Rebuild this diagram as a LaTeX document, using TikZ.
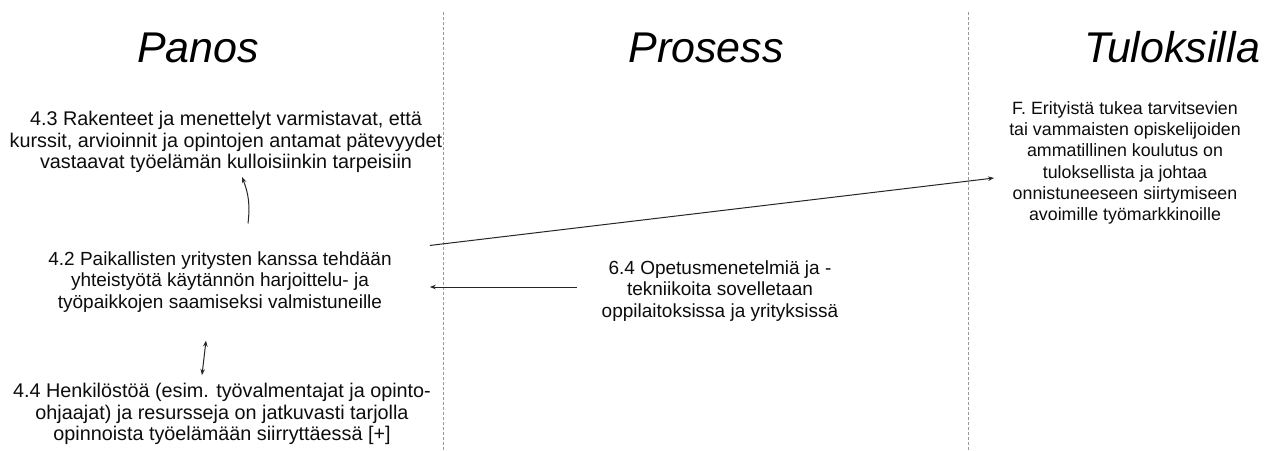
\documentclass[tikz,border=0pt]{standalone}
\usepackage{fontspec}
\setmainfont{Liberation Sans}
\usetikzlibrary{arrows.meta}
\begin{document}
\begin{tikzpicture}[x=1pt,y=-1pt,
  title/.style={font=\fontsize{43}{50}\selectfont\itshape, anchor=base, inner sep=0pt, text=black},
  txt/.style={align=center, inner sep=0pt, text=black!95},
  arr/.style={-{Stealth[length=6pt,width=4.5pt]}, line width=1pt, black!85},
  darr/.style={{Stealth[length=6pt,width=4.5pt]}-{Stealth[length=6pt,width=4.5pt]}, line width=1pt, black!85},
  sep/.style={draw=black!40, line width=0.9pt, dash pattern=on 3pt off 2pt}]
\useasboundingbox (0,0) rectangle (1271,450);
\fill[white] (0,0) rectangle (1271,450);
% separators
\draw[sep] (443,12) -- (443,450);
\draw[sep] (968,12) -- (968,450);
% titles
\node[title] (tp) at (198,62) {Panos};
\node[title] (tr) at (706,62) {Prosess};
\node[title] (tt) at (1172,62) {Tuloksilla};
% blocks
\node[txt, font=\fontsize{19.8}{21.5}\selectfont] (n43) at (226,142)
 {4.3 Rakenteet ja menettelyt varmistavat, että\\kurssit, arvioinnit ja opintojen antamat pätevyydet\\vastaavat työelämän kulloisiinkin tarpeisiin};
\node[txt, font=\fontsize{19}{21.5}\selectfont] (n42) at (220,282)
 {4.2 Paikallisten yritysten kanssa tehdään\\yhteistyötä käytännön harjoittelu- ja\\työpaikkojen saamiseksi valmistuneille};
\node[txt, font=\fontsize{19.8}{21.5}\selectfont] (n44) at (222,414)
 {4.4 Henkilöstöä (esim. työvalmentajat ja opinto-\\ohjaajat) ja resursseja on jatkuvasti tarjolla\\opinnoista työelämään siirryttäessä [+]};
\node[txt, font=\fontsize{19}{21.5}\selectfont] (n64) at (720,291)
 {6.4 Opetusmenetelmiä ja -\\tekniikoita sovelletaan\\oppilaitoksissa ja yrityksissä};
\node[txt, font=\fontsize{17.8}{21.3}\selectfont] (nF) at (1125,163)
 {F. Erityistä tukea tarvitsevien\\tai vammaisten opiskelijoiden\\ammatillinen koulutus on\\tuloksellista ja johtaa\\onnistuneeseen siirtymiseen\\avoimille työmarkkinoille};
% connectors
\draw[arr] ([xshift=28pt,yshift=28pt]n42.north) to[bend right=14] ([xshift=16pt,yshift=-4pt]n43.south);
\draw[darr] ([xshift=-14pt,yshift=-28pt]n42.south) -- ([xshift=-20pt,yshift=8pt]n44.north);
\draw[arr] ([xshift=-25pt,yshift=4pt]n64.west) -- ([xshift=38pt,yshift=-5pt]n42.east);
\draw[arr] ([xshift=38pt,yshift=6pt]n42.north east) -- ([xshift=-15pt,yshift=-15pt]nF.west);
\end{tikzpicture}
\end{document}
